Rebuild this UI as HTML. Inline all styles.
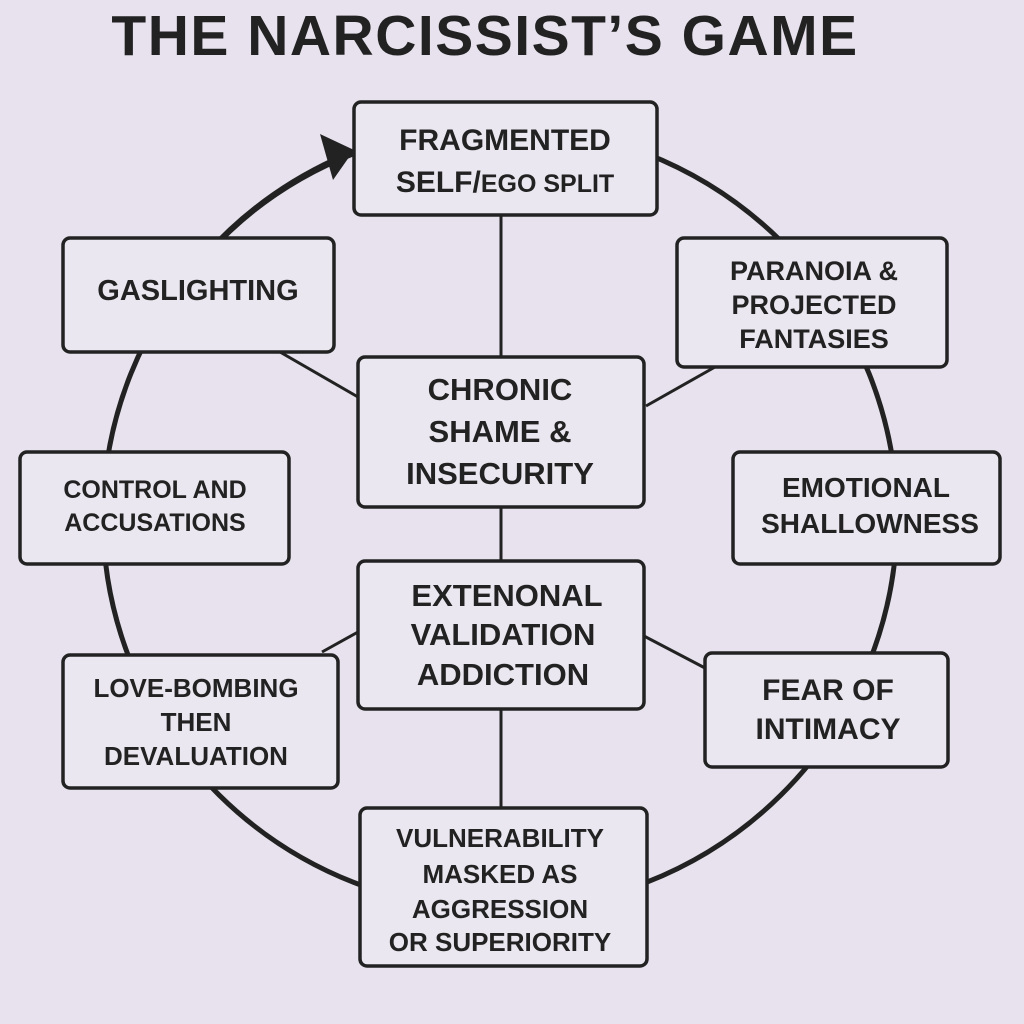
<!DOCTYPE html>
<html><head><meta charset="utf-8"><style>
html,body{margin:0;padding:0;background:#e7e2ed;}
svg{display:block}
text{font-family:"Liberation Sans",sans-serif;font-weight:bold;fill:#222;text-anchor:middle}
</style></head><body>
<svg width="1024" height="1024" viewBox="0 0 1024 1024" xmlns="http://www.w3.org/2000/svg">
<rect width="1024" height="1024" fill="#e7e2ed"/>
<text x="485" y="55" font-size="57" style="letter-spacing:1.5px">THE NARCISSIST’S GAME</text>
<g stroke="#222" fill="none">
<ellipse cx="500" cy="518" rx="397" ry="392" stroke-width="5"/>
<path d="M205 256 A397 392 0 0 1 335 160" stroke-width="6"/>
<polygon points="354,150 320,134 333,180" fill="#222" stroke="none"/>
<line x1="501" y1="215" x2="501" y2="357" stroke-width="3"/>
<line x1="501" y1="507" x2="501" y2="561" stroke-width="3"/>
<line x1="501" y1="709" x2="501" y2="808" stroke-width="3"/>
<line x1="280" y1="352" x2="358" y2="397" stroke-width="3"/>
<line x1="715" y1="367" x2="646" y2="406" stroke-width="3"/>
<line x1="358" y1="632" x2="322" y2="652" stroke-width="3"/>
<line x1="644" y1="636" x2="705" y2="668" stroke-width="3"/>
</g>
<g stroke="#222" stroke-width="3.5" fill="#ebe7f0">
<rect x="354" y="102" width="303" height="113" rx="7"/>
<rect x="63" y="238" width="271" height="114" rx="7"/>
<rect x="677" y="238" width="270" height="129" rx="7"/>
<rect x="358" y="357" width="286" height="150" rx="7"/>
<rect x="20" y="452" width="269" height="112" rx="7"/>
<rect x="733" y="452" width="267" height="112" rx="7"/>
<rect x="358" y="561" width="286" height="148" rx="7"/>
<rect x="63" y="655" width="275" height="133" rx="7"/>
<rect x="705" y="653" width="243" height="114" rx="7"/>
<rect x="360" y="808" width="287" height="158" rx="7"/>
</g>
<text x="505" y="150" font-size="30">FRAGMENTED</text>
<text x="505" y="192" font-size="30">SELF/<tspan font-size="25">EGO SPLIT</tspan></text>
<text x="198" y="300" font-size="29">GASLIGHTING</text>
<text x="814" y="280" font-size="27">PARANOIA &amp;</text>
<text x="814" y="314" font-size="27">PROJECTED</text>
<text x="814" y="348" font-size="27">FANTASIES</text>
<text x="500" y="400" font-size="31">CHRONIC</text>
<text x="500" y="442" font-size="31">SHAME &amp;</text>
<text x="500" y="484" font-size="31">INSECURITY</text>
<text x="155" y="498" font-size="25">CONTROL AND</text>
<text x="155" y="531" font-size="25">ACCUSATIONS</text>
<text x="866" y="497" font-size="28">EMOTIONAL</text>
<text x="870" y="533" font-size="28">SHALLOWNESS</text>
<text x="507" y="606" font-size="31">EXTENONAL</text>
<text x="503" y="645" font-size="31">VALIDATION</text>
<text x="503" y="685" font-size="31">ADDICTION</text>
<text x="196" y="697" font-size="26">LOVE-BOMBING</text>
<text x="196" y="731" font-size="26">THEN</text>
<text x="196" y="765" font-size="26">DEVALUATION</text>
<text x="828" y="700" font-size="30">FEAR OF</text>
<text x="828" y="739" font-size="30">INTIMACY</text>
<text x="500" y="847" font-size="26">VULNERABILITY</text>
<text x="500" y="883" font-size="26">MASKED AS</text>
<text x="500" y="918" font-size="26">AGGRESSION</text>
<text x="500" y="951" font-size="26">OR SUPERIORITY</text>
</svg>
</body></html>
